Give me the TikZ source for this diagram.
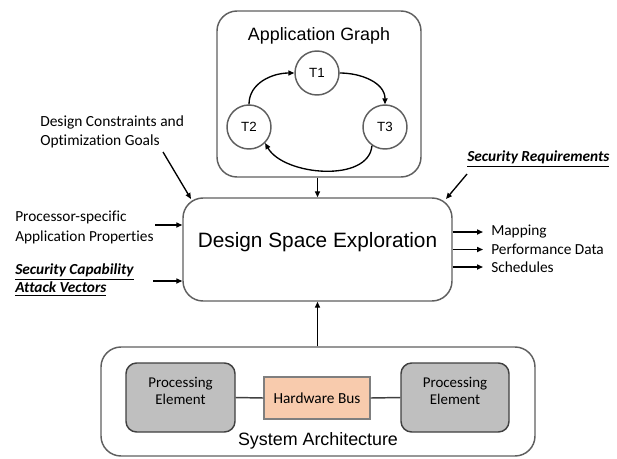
\documentclass[tikz,border=0pt]{standalone}
\usepackage{fontspec}
\setmainfont{Carlito}[Ligatures=NoCommon]
\newfontfamily\arialf{Liberation Sans}
\usetikzlibrary{arrows.meta,fit}
\definecolor{boxgray}{HTML}{5F5F5F}
\definecolor{pegray}{HTML}{BFBFBF}
\definecolor{pedark}{HTML}{404040}
\definecolor{busfill}{HTML}{F8CBAD}
\definecolor{busline}{HTML}{7F7F7F}
\begin{document}
\begin{tikzpicture}[x=0.75pt,y=-0.75pt,
  grp/.style={draw=boxgray, line width=1.1pt, rounded corners=15pt, inner sep=0pt},
  task/.style={circle, draw=boxgray, line width=1.1pt, minimum size=33pt, inner sep=0pt, font=\arialf\fontsize{10}{12}\selectfont},
  arr/.style={-{Triangle[length=4.5pt,width=3.8pt]}, line width=1pt, draw=black},
  pe/.style={draw=pedark, fill=pegray, line width=1.1pt, rounded corners=8pt, inner sep=0pt},
  petxt/.style={align=center, inner sep=0pt, font=\fontsize{11.2}{13}\selectfont},
  lbl/.style={align=left, inner sep=0pt, anchor=west},
  txt/.style={font=\fontsize{11.5}{14}\selectfont},
  title/.style={inner sep=0pt, font=\arialf\fontsize{13.4}{16}\selectfont}
]
\useasboundingbox (0,0) rectangle (617,458);

% Application graph
\node[grp, fit={(217,11) (421,177)}] (ag) {};
\node[title] (agt) at (319,36) {Application Graph};
\node[task] (t1) at (317,73) {T1};
\node[task] (t2) at (249,127) {T2};
\node[task] (t3) at (385,127) {T3};
\draw[arr] (t2.north) to[out=90,in=180] (t1.west);
\draw[arr] (t1.east) to[out=0,in=90] (t3.north);
\draw[arr] (t3.-125) to[out=-95,in=-60,looseness=0.9] (t2.-45);

% DSE
\node[grp, fit={(183,198) (452,301)}, font=\arialf\fontsize{15.6}{18}\selectfont] (dse) {Design Space Exploration};
\draw[arr] (ag.south -| dse.north) -- (dse.north);

% Left inputs
\node[lbl, font=\fontsize{11.6}{14.2}\selectfont] (dc) at (40,132) {Design Constraints and\\Optimization Goals};
\coordinate (dcs) at (163,152);
\coordinate (dce) at (191,199);
\draw[arr] (dcs) -- (dce);

\node[lbl, font=\fontsize{11.5}{15}\selectfont] (pa) at (15,227) {Processor-specific\\Application Properties};
\coordinate (pas) at (155,225);
\draw[arr] (pas) -- (pas -| dse.west);

\node[lbl, font=\bfseries\itshape\fontsize{11.5}{13.5}\selectfont] (sc) at (15,280) {\underline{Security Capability}\\\underline{Attack Vectors}};
\coordinate (scs) at (153,281);
\draw[arr] (scs) -- (scs -| dse.west);

% Security requirements
\node[lbl, font=\bfseries\itshape\fontsize{11.5}{13.5}\selectfont] (sr) at (467,159) {\underline{Security Requirements}};
\coordinate (srs) at (467,174);
\coordinate (sre) at (446,199);
\draw[arr] (srs) -- (sre);

% Outputs
\node[lbl, txt] (o1) at (491,232) {Mapping};
\node[lbl, txt] (o2) at (491,249.5) {Performance Data};
\node[lbl, txt] (o3) at (491,267) {Schedules};
\draw[arr] (dse.east |- o1.west) -- ([xshift=-6]o1.west);
\draw[arr] (dse.east |- o2.west) -- ([xshift=-6]o2.west);
\draw[arr] (dse.east |- o3.west) -- ([xshift=-6]o3.west);

% System architecture
\node[grp, fit={(101,347) (535,456)}] (sa) {};
\node[title] (sat) at (318,441) {System Architecture};
\node[pe, fit={(126,363) (235,432)}] (pe1) {};
\node[petxt] (pe1t) at (pe1.center) [yshift=5pt] {Processing\\Element};
\node[pe, fit={(401,363) (509,432)}] (pe2) {};
\node[petxt] (pe2t) at (pe2.center) [yshift=5pt] {Processing\\Element};
\node[draw=busline, fill=busfill, line width=1.1pt, inner sep=0pt, fit={(264,377) (370,419)}] (bus) {};
\node[txt] (bust) at (bus.center) {Hardware Bus};
\draw[line width=1.1pt, draw=pedark] (pe1.east) -- (bus.west);
\draw[line width=1.1pt, draw=pedark] (bus.east) -- (pe2.west);
\draw[arr] (sa.north -| dse.south) -- (dse.south);
\end{tikzpicture}
\end{document}
